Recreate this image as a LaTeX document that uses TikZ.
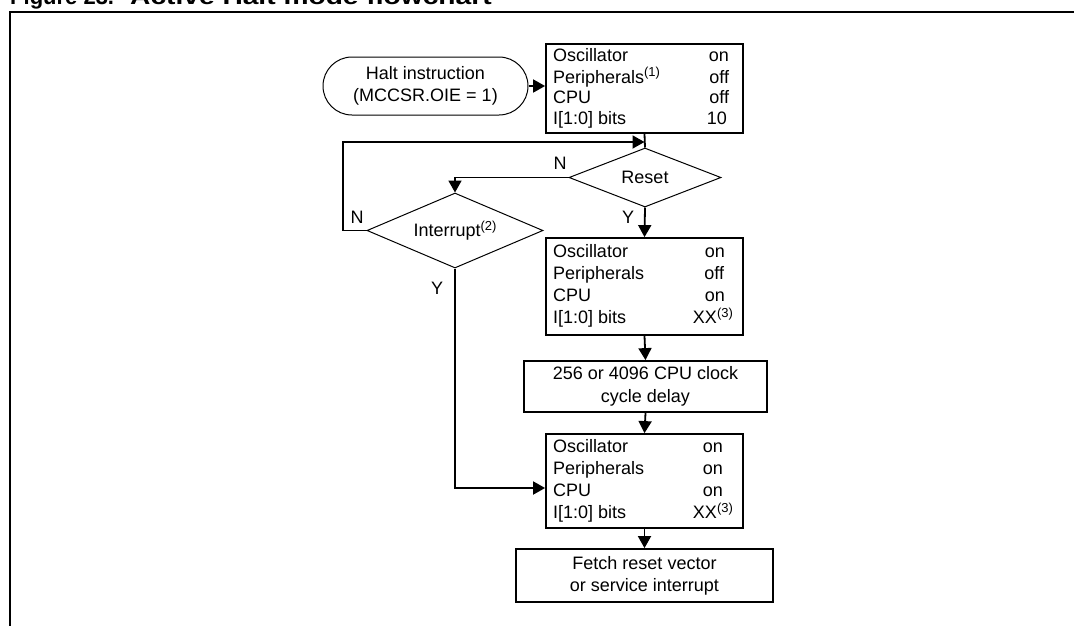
\documentclass[tikz,border=0pt]{standalone}
\usepackage{fontspec}
\setmainfont{Liberation Sans}
\usetikzlibrary{shapes.geometric,arrows.meta,calc}
\newcommand\srow[3]{\makebox[183pt]{#1\hfill #2\hspace{#3}}}
\newcommand\supnote[1]{\raisebox{6.5pt}{\fontsize{13}{13}\selectfont(#1)}}
\begin{document}
\begin{tikzpicture}[x=1pt,y=-1pt,
  txt/.style={font=\fontsize{18}{22}\selectfont},
  thinshape/.style={draw, line width=1pt, inner sep=0pt, txt},
  boxshape/.style={draw, line width=1.8pt, inner sep=0pt, txt, rectangle},
  conn/.style={line width=1.8pt},
  arr/.style={conn, -{Triangle[length=12pt,width=13pt]}},
  lbl/.style={txt, inner sep=0pt}
]
\useasboundingbox (0,0) rectangle (1074,625);
\clip (0,0) rectangle (1074,625);

% title (clipped at top, as in the reference)
\node[anchor=base west, inner sep=0pt, font=\bfseries\fontsize{22}{26}\selectfont] (fig) at (10,4) {Figure 23.};
\node[anchor=base west, inner sep=0pt, font=\bfseries\fontsize{22}{26}\selectfont] (ttl) at (130,4) {\scalebox{1.28}[1]{Active Halt mode flowchart}};

% frame
\draw[line width=2pt] (10,640) -- (10,12) -- (1090,12);

% nodes
\node[thinshape, rectangle, rounded corners=29pt, minimum width=205pt, minimum height=58pt, align=center] (term) at (425.5,86) {Halt instruction\\(MCCSR.OIE = 1)};

\node[boxshape, minimum width=197pt, minimum height=89pt] (b1) at (644.5,88.5) {\fontsize{18}{20.5}\selectfont\begin{tabular}{@{}l@{}}
\srow{Oscillator}{on}{7pt}\\
\srow{Peripherals\supnote{1}}{off}{7pt}\\
\srow{CPU}{off}{7pt}\\
\srow{I[1:0] bits}{10}{9pt}
\end{tabular}};

\node[diamond, thinshape, aspect=2.5, minimum width=152pt, minimum height=59pt] (rst) at (645,177.5) {Reset};
\node[diamond, thinshape, aspect=2.35, minimum width=176pt, minimum height=75pt] (int) at (455,230.5) {Interrupt\supnote{2}};

\node[boxshape, minimum width=197pt, minimum height=97pt] (b2) at (644.5,286.5) {\fontsize{18}{21.7}\selectfont\begin{tabular}{@{}l@{}}
\srow{Oscillator}{on}{11pt}\\
\srow{Peripherals}{off}{12pt}\\
\srow{CPU}{on}{11pt}\\
\srow{I[1:0] bits}{XX\rlap{\supnote{3}}}{19pt}
\end{tabular}};

\node[boxshape, minimum width=243pt, minimum height=51pt, align=center, font=\fontsize{18}{23}\selectfont] (dly) at (645.5,386.5) {256 or 4096 CPU clock\\cycle delay};

\node[boxshape, minimum width=197pt, minimum height=94pt] (b3) at (644.5,481) {\fontsize{18}{22}\selectfont\begin{tabular}{@{}l@{}}
\srow{Oscillator}{on}{13pt}\\
\srow{Peripherals}{on}{13pt}\\
\srow{CPU}{on}{13pt}\\
\srow{I[1:0] bits}{XX\rlap{\supnote{3}}}{19pt}
\end{tabular}};

\node[boxshape, minimum width=257pt, minimum height=53pt, align=center] (fetch) at (644.5,575.5) {Fetch reset vector\\or service interrupt};

% labels
\node[lbl] (nr) at (560,163) {N};
\node[lbl] (ni) at (357,217) {N};
\node[lbl] (yr) at (628,217) {Y};
\node[lbl] (yi) at (437,288) {Y};

% connectors
\coordinate (j1) at (644.5,142);
\coordinate (lp) at (343,142);
\coordinate (b3in) at ($(b3.west)+(0,7)$);
\draw[arr] (term.east) -- (term.east -| b1.west);
\draw[conn] (b1.south) -- (rst.north);
\draw[arr] (int.west) -| (lp) -- (j1);
\draw[arr] (rst.west) -| (int.north);
\draw[arr] (rst.south) -- (b2.north);
\draw[arr] (b2.south) -- (dly.north);
\draw[arr] (dly.south) -- (b3.north);
\draw[arr] (b3.south) -- (fetch.north);
\draw[arr] (int.south) |- (b3in);
\end{tikzpicture}
\end{document}
